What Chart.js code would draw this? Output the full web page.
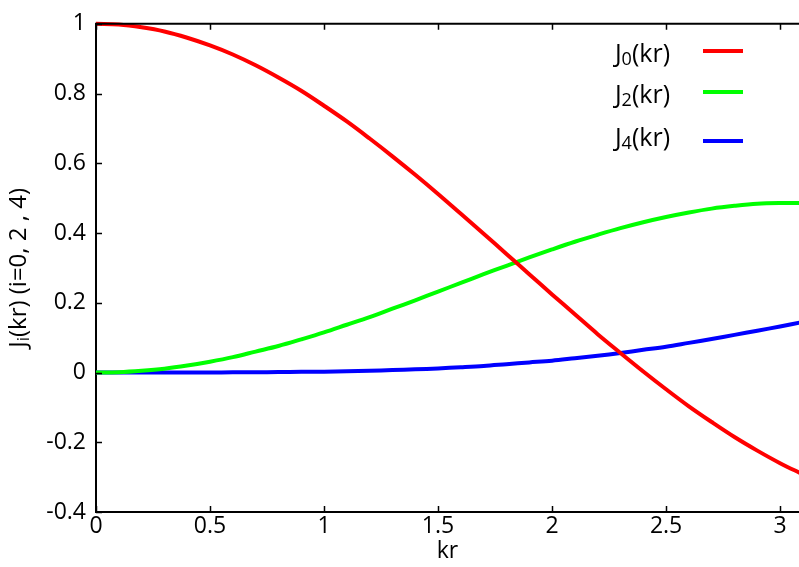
<!DOCTYPE html>
<html>
<head>
<meta charset="utf-8">
<script src="https://cdn.jsdelivr.net/npm/chart.js@4.4.1/dist/chart.umd.min.js"></script>
<style>
  html, body { margin: 0; padding: 0; background: #fff; }
</style>
</head>
<body>
<canvas id="chart" width="799" height="567"></canvas>
<script>
// values
const kr = [0, 0.1, 0.2, 0.3, 0.4, 0.5, 0.6, 0.7, 0.8, 0.9, 1.0, 1.1, 1.2, 1.3, 1.4, 1.5,
  1.6, 1.7, 1.8, 1.9, 2.0, 2.1, 2.2, 2.3, 2.4, 2.5, 2.6, 2.7, 2.8, 2.9, 3.0, 3.1];
const j0 = [1.0, 0.998, 0.990, 0.978, 0.960, 0.938, 0.912, 0.881, 0.846, 0.808, 0.765, 0.720,
  0.671, 0.620, 0.567, 0.512, 0.455, 0.398, 0.340, 0.282, 0.224, 0.167, 0.110, 0.056, 0.003,
  -0.048, -0.097, -0.142, -0.185, -0.224, -0.260, -0.292];
const j2 = [0, 0.001, 0.005, 0.011, 0.020, 0.031, 0.044, 0.060, 0.076, 0.095, 0.115, 0.137,
  0.159, 0.183, 0.207, 0.232, 0.257, 0.282, 0.306, 0.330, 0.353, 0.375, 0.395, 0.414, 0.431,
  0.446, 0.459, 0.470, 0.478, 0.484, 0.486, 0.486];
const j4 = [0, 0, 0, 0, 0, 0.0002, 0.0004, 0.0008, 0.0013, 0.0021, 0.0025, 0.0036, 0.005,
  0.0069, 0.0092, 0.0118, 0.0152, 0.019, 0.024, 0.029, 0.034, 0.041, 0.048, 0.056, 0.065,
  0.074, 0.085, 0.096, 0.108, 0.120, 0.132, 0.145];

const seriesNames = ["0", "2", "4"];
const seriesColors = ["#ff0000", "#00ff00", "#0000ff"];
const xTicks = [0, 0.5, 1, 1.5, 2, 2.5, 3];
const yTicks = [-0.4, -0.2, 0, 0.2, 0.4, 0.6, 0.8, 1];

const FONT = "'Open Sans', 'DejaVu Sans', sans-serif";

function points(ys) {
  return kr.map((x, i) => ({ x: x, y: ys[i] }));
}

function fmt(v) {
  return String(Math.round(v * 10) / 10);
}

// draws text with a lowered small part: [base, sub, rest]
function drawSubText(ctx, x, y, base, sub, rest, size, align) {
  ctx.font = `${size}px ${FONT}`;
  const wBase = ctx.measureText(base).width;
  const wRest = ctx.measureText(rest).width;
  ctx.font = `${Math.round(size * 0.7)}px ${FONT}`;
  const wSub = ctx.measureText(sub).width;
  const total = wBase + wSub + wRest;
  let start = x;
  if (align === "right") start = x - total;
  if (align === "center") start = x - total / 2;
  ctx.textAlign = "left";
  ctx.textBaseline = "middle";
  ctx.font = `${size}px ${FONT}`;
  ctx.fillText(base, start, y);
  ctx.font = `${Math.round(size * 0.7)}px ${FONT}`;
  ctx.fillText(sub, start + wBase, y + size * 0.2);
  ctx.font = `${size}px ${FONT}`;
  ctx.fillText(rest, start + wBase + wSub, y);
}

const framePlugin = {
  id: "frame",
  afterDraw(chart) {
    const ctx = chart.ctx;
    const area = chart.chartArea;
    const xs = chart.scales.x;
    const ys = chart.scales.y;
    ctx.save();
    ctx.strokeStyle = "#000";
    ctx.lineWidth = 2;

    // top border
    ctx.beginPath();
    ctx.moveTo(area.left - 1, area.top);
    ctx.lineTo(area.right, area.top);
    ctx.stroke();

    // inward tick marks
    ctx.beginPath();
    for (const v of xTicks) {
      const px = Math.round(xs.getPixelForValue(v)) + 0.5;
      ctx.moveTo(px, area.bottom);
      ctx.lineTo(px, area.bottom - 6);
      ctx.moveTo(px, area.top);
      ctx.lineTo(px, area.top + 6);
    }
    for (const v of yTicks) {
      const py = Math.round(ys.getPixelForValue(v)) + 0.5;
      ctx.moveTo(area.left, py);
      ctx.lineTo(area.left + 6, py);
    }
    ctx.lineWidth = 1.5;
    ctx.stroke();

    // legend
    ctx.fillStyle = "#000";
    const rowsText = [55, 96, 139];
    const rowsLine = [51, 92, 141];
    seriesNames.forEach((n, i) => {
      drawSubText(ctx, 670, rowsText[i], "J", n, "(kr)", 25, "right");
      ctx.strokeStyle = seriesColors[i];
      ctx.lineWidth = 4;
      ctx.beginPath();
      ctx.moveTo(703, rowsLine[i]);
      ctx.lineTo(743, rowsLine[i]);
      ctx.stroke();
    });

    // y axis title
    ctx.save();
    ctx.translate(19, (area.top + area.bottom) / 2);
    ctx.rotate(-Math.PI / 2);
    ctx.fillStyle = "#000";
    drawSubText(ctx, 0, 0, "J", "i", "(kr) (i=0, 2 , 4)", 24, "center");
    ctx.restore();

    ctx.restore();
  },
};

const chart = new Chart(document.getElementById("chart"), {
  type: "line",
  data: {
    datasets: [j0, j2, j4].map((ys, i) => ({
      label: "J" + seriesNames[i] + "(kr)",
      data: points(ys),
      borderColor: seriesColors[i],
      backgroundColor: seriesColors[i],
      borderWidth: 4,
      pointRadius: 0,
      tension: 0.35,
      fill: false,
      clip: false,
    })),
  },
  options: {
    responsive: false,
    animation: false,
    devicePixelRatio: 1,
    layout: { padding: { top: 20, right: 0, left: 0, bottom: 0 } },
    plugins: {
      legend: { display: false },
      tooltip: { enabled: false },
    },
    scales: {
      x: {
        type: "linear",
        min: 0,
        max: 3.083,
        afterBuildTicks(scale) {
          scale.ticks = xTicks.map((v) => ({ value: v }));
        },
        afterFit(scale) {
          scale.height = 55;
        },
        grid: { drawOnChartArea: false, drawTicks: false },
        border: { display: true, color: "#000", width: 2 },
        ticks: {
          color: "#000",
          font: { family: FONT, size: 23 },
          padding: 1,
          maxRotation: 0,
          callback: (v) => fmt(v),
        },
        title: {
          display: true,
          text: "kr",
          color: "#000",
          font: { family: FONT, size: 23 },
          padding: { top: 0, bottom: 2 },
        },
      },
      y: {
        min: -0.4,
        max: 1,
        afterBuildTicks(scale) {
          scale.ticks = yTicks.map((v) => ({ value: v }));
        },
        afterFit(scale) {
          scale.width = 96;
        },
        grid: { drawOnChartArea: false, drawTicks: false },
        border: { display: true, color: "#000", width: 2 },
        ticks: {
          color: "#000",
          font: { family: FONT, size: 23 },
          padding: 10,
          callback: (v) => fmt(v),
        },
      },
    },
  },
  plugins: [framePlugin],
});
</script>
</body>
</html>
